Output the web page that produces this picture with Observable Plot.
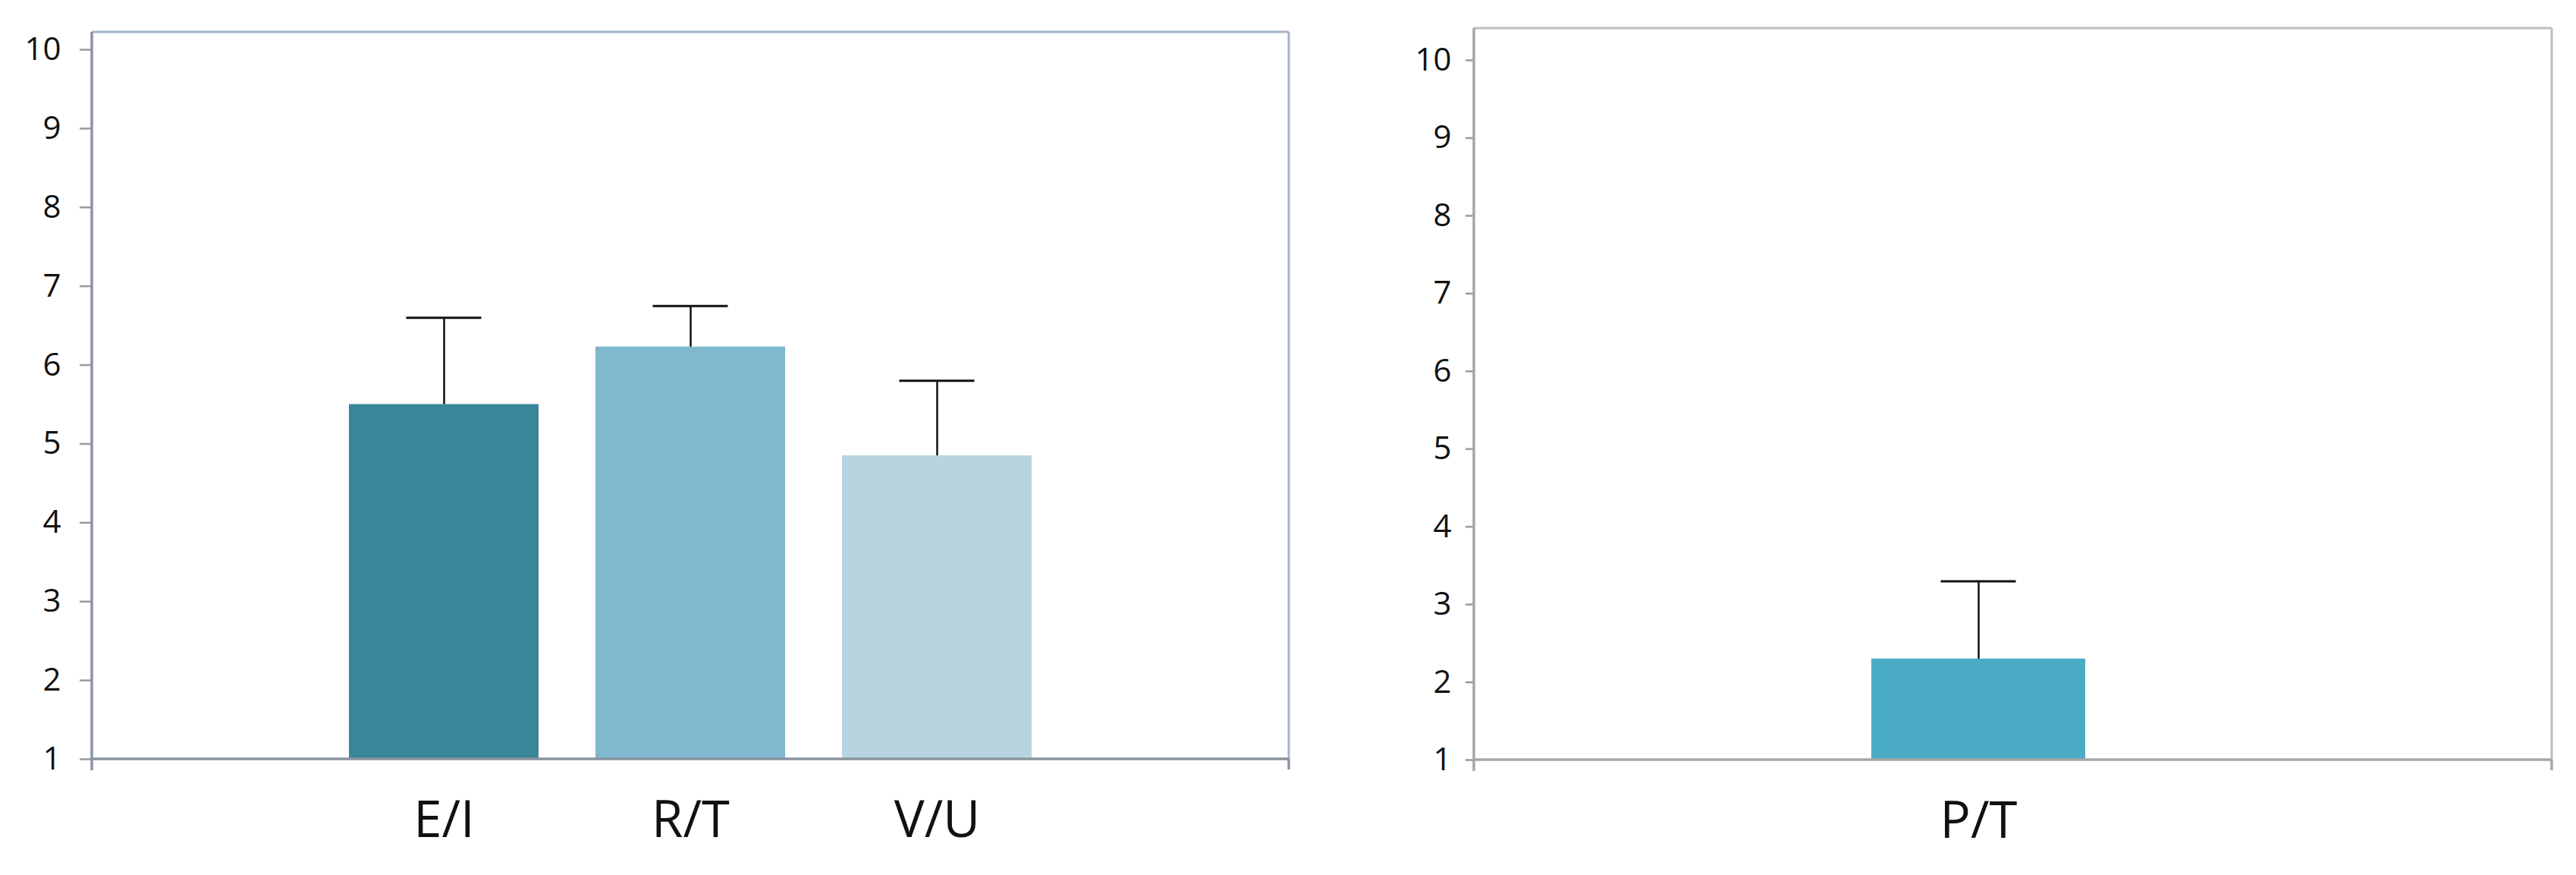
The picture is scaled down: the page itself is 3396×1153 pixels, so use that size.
<!DOCTYPE html>
<html>
<head>
<meta charset="utf-8">
<script src="https://cdn.jsdelivr.net/npm/d3@7"></script>
<script src="https://cdn.jsdelivr.net/npm/@observablehq/plot@0.6"></script>
<style>
  html, body { margin: 0; padding: 0; background: #fff; }
  #wrap { position: relative; width: 3396px; height: 1153px; background: #fff; overflow: hidden; }
  #left, #right { position: absolute; top: 0; }
  #left { left: 0; }
  #right { left: 1760px; }
  svg { font-family: "Open Sans", sans-serif; }
</style>
</head>
<body>
<div id="wrap"><div id="left"></div><div id="right"></div></div>
<script>
// ---- data ----
const leftCats = ["E/I", "R/T", "V/U"];
const leftMeans = [5.5, 6.23, 4.85];
const leftErrs = [1.1, 0.52, 0.95];
const leftColors = ["#3A8699", "#7EB9CE", "#B7D5E0"];

const rightCats = ["P/T"];
const rightMeans = [2.3];
const rightErrs = [1.0];
const rightColors = ["#4AABC5"];

const yTicks = [1, 2, 3, 4, 5, 6, 7, 8, 9, 10];
const yDomain = [1, 10];

function rows(cats, means, errs) {
  return cats.map((c, i) => ({cat: c, value: means[i], hi: means[i] + errs[i]}));
}

function axisLines(axisColor, frameColor, drawFrame) {
  return (index, scales, values, dims) => {
    const {width, height, marginLeft, marginRight, marginTop, marginBottom} = dims;
    const x0 = marginLeft, x1 = width - marginRight;
    const yb = scales.y(1), yt = marginTop;
    const g = d3.create("svg:g");
    if (drawFrame) {
      g.append("line").attr("x1", x0).attr("x2", x1).attr("y1", yt).attr("y2", yt)
        .attr("stroke", frameColor).attr("stroke-width", 3);
      g.append("line").attr("x1", x1).attr("x2", x1).attr("y1", yt).attr("y2", yb + 14)
        .attr("stroke", frameColor).attr("stroke-width", 3);
    }
    g.append("line").attr("x1", x0).attr("x2", x1).attr("y1", yb).attr("y2", yb)
      .attr("stroke", axisColor).attr("stroke-width", 3.5);
    g.append("line").attr("x1", x0).attr("x2", x0).attr("y1", yt).attr("y2", yb + 15)
      .attr("stroke", axisColor).attr("stroke-width", 3.5);
    g.append("line").attr("x1", x1).attr("x2", x1).attr("y1", yb).attr("y2", yb + 14)
      .attr("stroke", axisColor).attr("stroke-width", 3);
    return g.node();
  };
}

function panel({cats, means, errs, colors, width, marginLeft, marginRight, marginTop, marginBottom,
                yRange, xRange, padding, capInset, tickSize, tickPadding, axisColor, frameColor}) {
  const data = rows(cats, means, errs);
  return Plot.plot({
    width, height: 1153,
    marginLeft, marginRight, marginTop, marginBottom,
    style: {fontFamily: "Open Sans, sans-serif", background: "white"},
    x: {domain: cats, range: xRange, padding, label: null},
    y: {domain: yDomain, range: yRange, label: null},
    color: {domain: cats, range: colors},
    marks: [
      Plot.barY(data, {x: "cat", y1: () => 1, y2: "value", fill: "cat"}),
      Plot.ruleX(data, {x: "cat", y1: "value", y2: "hi", stroke: "#111", strokeWidth: 2.5}),
      Plot.tickY(data, {x: "cat", y: "hi", stroke: "#111", strokeWidth: 3, inset: capInset}),
      Plot.axisY({ticks: yTicks, tickFormat: d3.format("d"), tickSize, tickPadding, fontSize: 42,
                  stroke: "#9a9a9a", strokeWidth: 2.5, fill: "#111", label: null}),
      Plot.axisX({tickSize: 0, tickPadding: 55, fontSize: 67, fill: "#111", label: null}),
      axisLines(axisColor, frameColor, true)
    ]
  });
}

document.getElementById("left").append(panel({
  cats: leftCats, means: leftMeans, errs: leftErrs, colors: leftColors,
  width: 1740, marginLeft: 121, marginRight: 41, marginTop: 42, marginBottom: 153,
  yRange: [1000, 65], xRange: [385, 1435], padding: 0.23, capInset: 75.5,
  tickSize: 16, tickPadding: 25, axisColor: "#8A949F", frameColor: "#A3B4C8"
}));

document.getElementById("right").append(panel({
  cats: rightCats, means: rightMeans, errs: rightErrs, colors: rightColors,
  width: 1636, marginLeft: 183, marginRight: 32, marginTop: 37, marginBottom: 152,
  yRange: [1001, 79], xRange: [707, 989], padding: 0, capInset: 91.5,
  tickSize: 11, tickPadding: 19, axisColor: "#A6A6A6", frameColor: "#BDBDBD"
}));
</script>
</body>
</html>
